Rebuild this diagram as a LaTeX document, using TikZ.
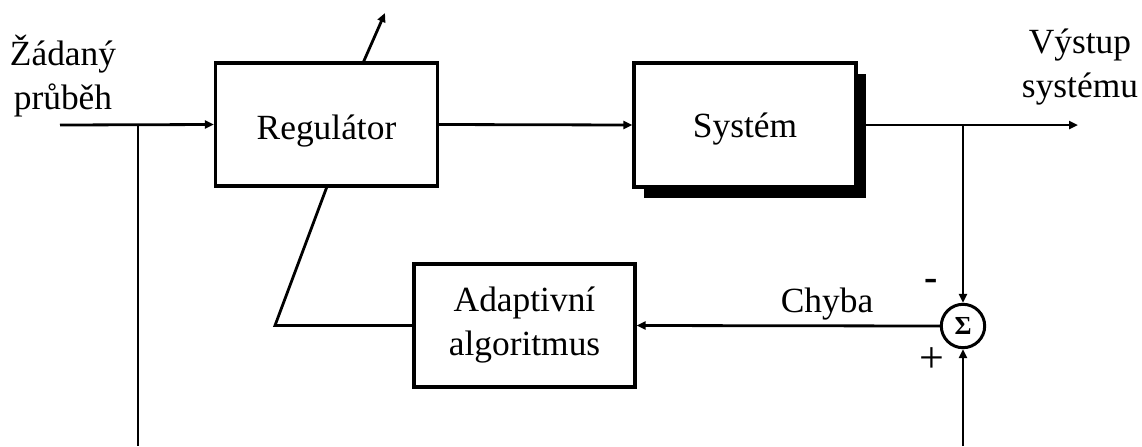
\documentclass[tikz,border=0pt]{standalone}
\usepackage{fontspec}
\setmainfont{Liberation Serif}
\usetikzlibrary{arrows.meta,shadows}
\begin{document}
\begin{tikzpicture}[x=0.5pt,y=-0.5pt,
  every node/.style={font=\fontsize{17.7}{22}\selectfont},
  block/.style={draw, line width=1.6pt, fill=white, minimum width=111pt,
    minimum height=61.5pt, inner sep=0pt, align=center},
  wire/.style={line width=1.4pt},
  flow/.style={wire, -{Triangle[length=4.5pt,width=4pt]}},
  lbl/.style={anchor=base, align=center, inner sep=0pt}]
\useasboundingbox (0,0) rectangle (1142,446);

% blocks
\node[block, text height=14.5pt, text depth=0pt] (reg) at (326.5,124.5) {Regulátor};
\node[block, minimum height=62pt, text height=12pt, text depth=0pt,
  drop shadow={shadow xshift=5pt, shadow yshift=-5.5pt, fill=black, opacity=1}]
  (sys) at (745,125) {Systém};
\node[block, minimum width=110.5pt] (adapt) at (524.5,325.5) {Adaptivní\\algoritmus};
\node[circle, draw, line width=1.5pt, minimum size=21.7pt, inner sep=0pt,
  font=\fontsize{13}{14}\selectfont\bfseries] (sum) at (963,326) {Σ};

% labels (base = baseline of the last line)
\node[lbl] (ref) at (63,109) {Žádaný\\průběh};
\node[lbl] (out) at (1080,97) {Výstup\\systému};
\node[lbl] (err) at (827,312) {Chyba};
\node[lbl, font=\fontsize{20}{22}\selectfont\bfseries] (minus) at (931,290) {-};
\node[lbl, font=\fontsize{22}{24}\selectfont] (plus) at (931.5,372) {+};

% free ends and bends
\coordinate (start) at (60,125);
\coordinate (split) at (138,125);
\coordinate (refdown) at (138,446);
\coordinate (tap) at (963,125);
\coordinate (end) at (1078,125);
\coordinate (meas) at (963,446);
\coordinate (bend) at (275,325.5);
\coordinate (regin) at (327,186.5);
\coordinate (regout) at (363,63);
\coordinate (tune) at (385,13);

% signal paths
\draw[flow] (start) -- (reg.west);
\draw[wire] (split) -- (refdown);
\draw[flow] (reg.east) -- (sys.west);
\draw[flow] (sys.east) -- (end);
\draw[flow] (tap) -- (sum.north);
\draw[flow] (meas) -- (sum.south);
\draw[flow] (sum.west) -- (adapt.east);
\draw[wire] (adapt.west) -- (bend) -- (regin);
\draw[flow] (regout) -- (tune);
\end{tikzpicture}
\end{document}
